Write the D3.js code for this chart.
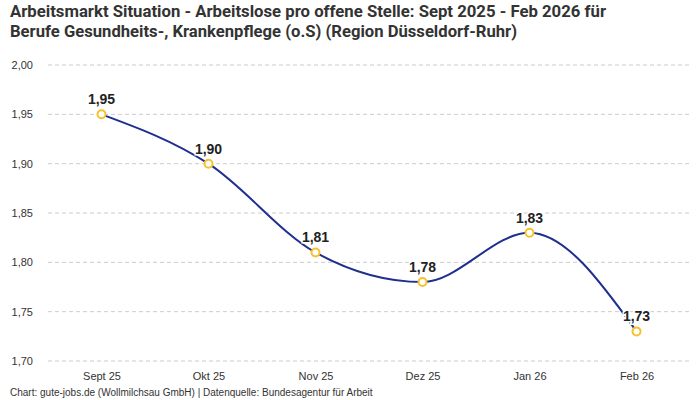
<!DOCTYPE html>
<html lang="de">
<head>
<meta charset="UTF-8">
<script src="https://d3js.org/d3.v7.min.js"></script>
<style>
  body { margin: 0; background: #fff; }
  svg { font-family: "Liberation Sans", Arial, sans-serif; }
  .title { font-family: Roboto, sans-serif; font-weight: bold; font-size: 17px; fill: #333; }
  .tick text { fill: #333; font-size: 11px; }
  .grid line { stroke: #ccc; stroke-dasharray: 4 3; }
  .label { font-size: 14px; font-weight: bold; fill: #222; paint-order: stroke; stroke: #fff; stroke-width: 3px; }
  .footer { font-size: 10px; fill: #333; }
</style>
</head>
<body>
<div id="chart"></div>
<script>
const months = ["Sept 25", "Okt 25", "Nov 25", "Dez 25", "Jan 26", "Feb 26"];
const values = [1.95, 1.90, 1.81, 1.78, 1.83, 1.73];
const yTicks = [1.70, 1.75, 1.80, 1.85, 1.90, 1.95, 2.00];

const width = 700, height = 400;
const margin = { left: 48, right: 10, top: 65, bottom: 39 };
const fmt = v => d3.format(".2f")(v).replace(".", ",");

const svg = d3.select("#chart").append("svg")
  .attr("width", width).attr("height", height);

// title squeezed to mimic the condensed face of the original
svg.append("text").attr("class", "title").attr("x", 10).attr("y", 17)
  .attr("textLength", 596).attr("lengthAdjust", "spacingAndGlyphs")
  .text("Arbeitsmarkt Situation - Arbeitslose pro offene Stelle: Sept 2025 - Feb 2026 für");
svg.append("text").attr("class", "title").attr("x", 10).attr("y", 37)
  .attr("textLength", 507).attr("lengthAdjust", "spacingAndGlyphs")
  .text("Berufe Gesundheits-, Krankenpflege (o.S) (Region Düsseldorf-Ruhr)");

const x = d3.scalePoint().domain(months)
  .range([margin.left, width - margin.right]).padding(0.5);
const y = d3.scaleLinear().domain([1.70, 2.00])
  .range([height - margin.bottom, margin.top]);

// grid
svg.append("g").attr("class", "grid")
  .selectAll("line").data(yTicks).join("line")
  .attr("x1", margin.left).attr("x2", width - margin.right)
  .attr("y1", d => y(d)).attr("y2", d => y(d));

// y axis
const yAxis = svg.append("g")
  .attr("transform", `translate(${margin.left},0)`)
  .call(d3.axisLeft(y).tickValues(yTicks).tickFormat(fmt).tickSize(0).tickPadding(15));
yAxis.select(".domain").remove();

// x axis
const xAxis = svg.append("g")
  .attr("transform", `translate(0,${height - margin.bottom})`)
  .call(d3.axisBottom(x).tickSize(0).tickPadding(11));
xAxis.select(".domain").remove();

const data = months.map((m, i) => ({ m, v: values[i] }));

svg.append("path").datum(data)
  .attr("fill", "none").attr("stroke", "#1e2f8f").attr("stroke-width", 2)
  .attr("d", d3.line().x(d => x(d.m)).y(d => y(d.v)).curve(d3.curveMonotoneX));

svg.selectAll(".pt").data(data).join("circle")
  .attr("class", "pt")
  .attr("cx", d => x(d.m)).attr("cy", d => y(d.v)).attr("r", 4)
  .attr("fill", "#fff").attr("stroke", "#f7c12b").attr("stroke-width", 2);

svg.selectAll(".label").data(data).join("text")
  .attr("class", "label")
  .attr("x", d => x(d.m)).attr("y", d => y(d.v) - 10)
  .attr("text-anchor", "middle")
  .text(d => fmt(d.v));

svg.append("text").attr("class", "footer").attr("x", 10).attr("y", 396)
  .text("Chart: gute-jobs.de (Wollmilchsau GmbH) | Datenquelle: Bundesagentur für Arbeit");
</script>
</body>
</html>
